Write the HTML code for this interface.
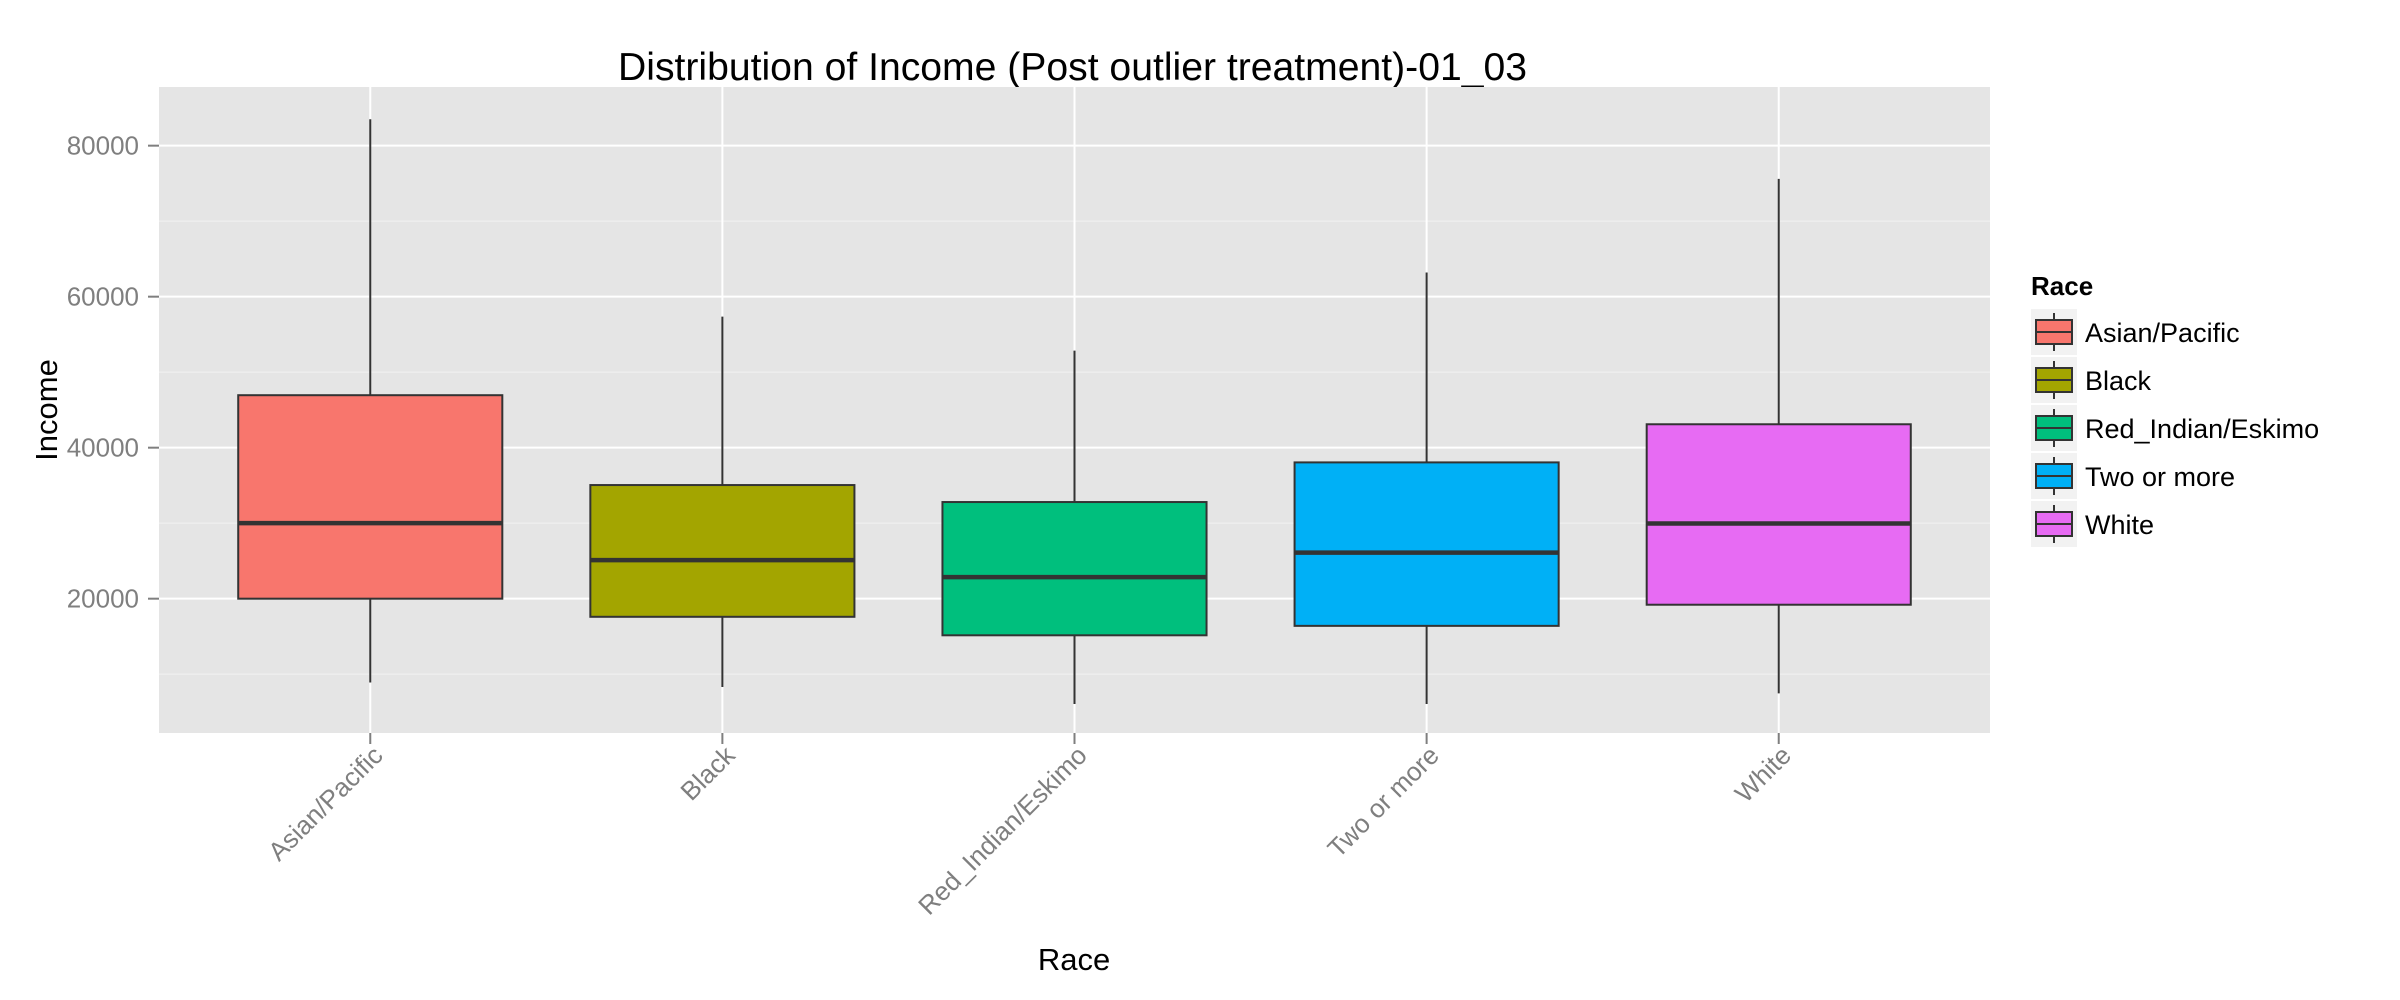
<!DOCTYPE html>
<html><head><meta charset="utf-8"><style>
html,body{margin:0;padding:0;background:#fff;}
svg{display:block;font-family:"Liberation Sans",Arial,sans-serif;}
</style></head><body>
<svg id="chart" width="2400" height="1000" viewBox="0 0 2400 1000" xmlns="http://www.w3.org/2000/svg">
<rect x="0" y="0" width="2400" height="1000" fill="#fff"/>
<text x="618" y="80" font-size="39" textLength="909" lengthAdjust="spacingAndGlyphs" fill="#000">Distribution of Income (Post outlier treatment)-01_03</text>
<rect x="159" y="87" width="1831" height="646" fill="#e5e5e5"/>
<g id="grid"></g>
<g id="boxes"></g>
<g id="yaxis"></g>
<g id="xaxis"></g>
<text x="0" y="0" font-size="31" text-anchor="middle" fill="#000" transform="translate(57,410) rotate(-90)">Income</text>
<text x="1074" y="970" font-size="31" text-anchor="middle" fill="#000">Race</text>
<g id="legend"></g>
</svg>
<script>
const categories = ["Asian/Pacific","Black","Red_Indian/Eskimo","Two or more","White"];
const colors = ["#F8766D","#A3A500","#00BF7D","#00B0F6","#E76BF3"];
const whiskerLow = [8900, 8300, 6050, 6050, 7450];
const q1 = [20000, 17600, 15150, 16400, 19200];
const medians = [30000, 25100, 22850, 26100, 29950];
const q3 = [46950, 35050, 32800, 38050, 43100];
const whiskerHigh = [83500, 57350, 52850, 63200, 75600];
const yTicks = [20000, 40000, 60000, 80000];
const yMinor = [10000, 30000, 50000, 70000];

const NS = "http://www.w3.org/2000/svg";
const px0 = 159, px1 = 1990, py0 = 87, py1 = 733;
const yMin = 2210, yMax = 87770;
function yScale(v){ return py1 - (v - yMin) / (yMax - yMin) * (py1 - py0); }
const band = (px1 - px0) / (categories.length + 0.2);
function xScale(i){ return px0 + band * (i + 0.6); }
function mk(tag, attrs, parent){
  const e = document.createElementNS(NS, tag);
  for (const k in attrs) e.setAttribute(k, attrs[k]);
  parent.appendChild(e); return e;
}
const grid = document.getElementById('grid');
yMinor.forEach(v => {
  const l = mk('line', {x1:px0, x2:px1, y1:yScale(v), y2:yScale(v), stroke:'#f2f2f2', 'stroke-width':1}, grid);
  
  
});
yTicks.forEach(v => {
  const l = mk('line', {x1:px0, x2:px1, y1:yScale(v), y2:yScale(v), stroke:'#fff', 'stroke-width':2}, grid);
  
  
});
categories.forEach((c, i) => {
  const l = mk('line', {x1:xScale(i), x2:xScale(i), y1:py0, y2:py1, stroke:'#fff', 'stroke-width':2}, grid);
  
  
});
const boxes = document.getElementById('boxes');
const bw = band * 0.75;
categories.forEach((c, i) => {
  const g = mk('g', {}, boxes);
  
  
  const cx = xScale(i);
  const w1 = mk('line', {x1:cx, x2:cx, y1:yScale(whiskerHigh[i]), y2:yScale(q3[i]), stroke:'#333', 'stroke-width':2}, g);
  
  
  const w2 = mk('line', {x1:cx, x2:cx, y1:yScale(q1[i]), y2:yScale(whiskerLow[i]), stroke:'#333', 'stroke-width':2}, g);
  
  
  const r = mk('rect', {x:cx - bw/2, y:yScale(q3[i]), width:bw, height:yScale(q1[i]) - yScale(q3[i]), fill:colors[i], stroke:'#333', 'stroke-width':2}, g);
  
  
  const m = mk('line', {x1:cx - bw/2, x2:cx + bw/2, y1:yScale(medians[i]), y2:yScale(medians[i]), stroke:'#333', 'stroke-width':4.5}, g);
  
  
});
const ya = document.getElementById('yaxis');
yTicks.forEach(v => {
  const t = mk('line', {x1:px0 - 11, x2:px0, y1:yScale(v), y2:yScale(v), stroke:'#7f7f7f', 'stroke-width':2}, ya);
  
  
  const l = mk('text', {x:px0 - 20, y:yScale(v) + 9, 'font-size':26, 'text-anchor':'end', fill:'#7f7f7f'}, ya);
  l.textContent = v;
  
  
});
const xa = document.getElementById('xaxis');
categories.forEach((c, i) => {
  const cx = xScale(i);
  const t = mk('line', {x1:cx, x2:cx, y1:py1, y2:py1 + 11, stroke:'#7f7f7f', 'stroke-width':2}, xa);
  
  
  const l = mk('text', {x:0, y:0, 'font-size':26, 'text-anchor':'end', fill:'#7f7f7f', transform:'translate(' + (cx + 14) + ',' + (py1 + 24) + ') rotate(-45)'}, xa);
  l.textContent = c;
  
  
});
const lg = document.getElementById('legend');
const lt = mk('text', {x:2031, y:295, 'font-size':26, 'font-weight':'bold', fill:'#000'}, lg);
lt.textContent = 'Race';


categories.forEach((c, i) => {
  const ky = 309 + i * 48;
  const g = mk('g', {}, lg);
  
  
  mk('rect', {x:2031, y:ky, width:46, height:46, fill:'#f2f2f2'}, g);
  mk('line', {x1:2054, x2:2054, y1:ky + 4, y2:ky + 42, stroke:'#333', 'stroke-width':2}, g);
  mk('rect', {x:2036, y:ky + 11, width:36, height:24, fill:colors[i], stroke:'#333', 'stroke-width':2}, g);
  mk('line', {x1:2036, x2:2072, y1:ky + 23, y2:ky + 23, stroke:'#333', 'stroke-width':2}, g);
  const tx = mk('text', {x:2085, y:ky + 33, 'font-size':27, fill:'#000'}, g);
  tx.textContent = c;
  
  
});
</script>
</body></html>
